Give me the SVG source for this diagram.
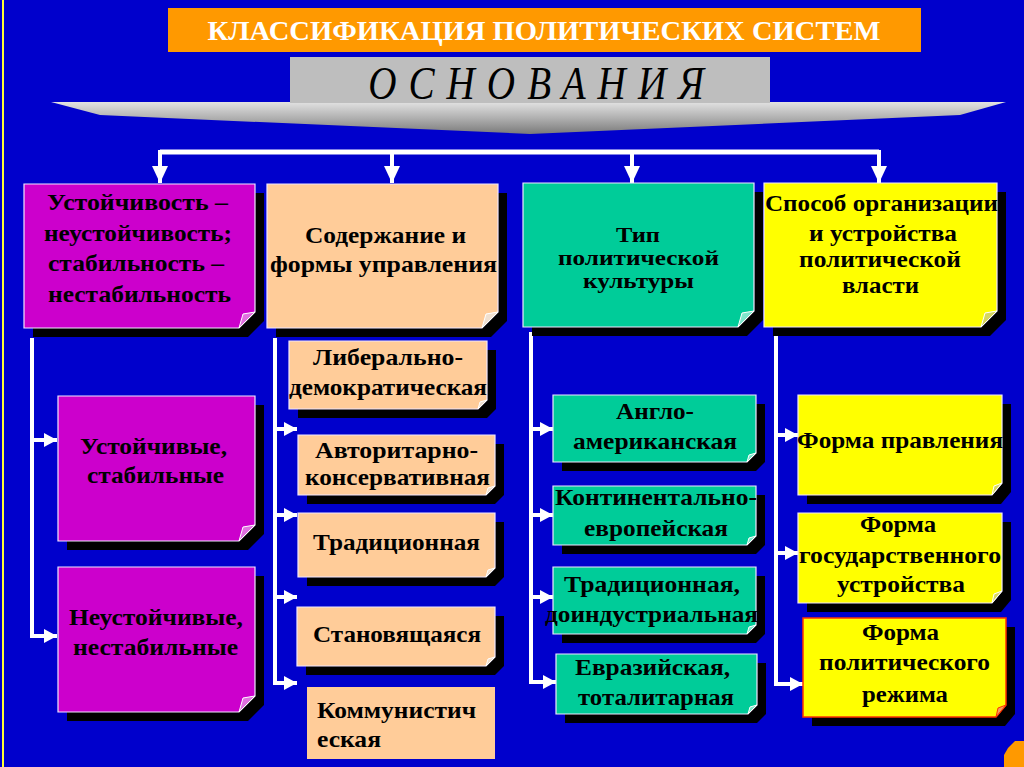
<svg xmlns="http://www.w3.org/2000/svg" width="1024" height="767" viewBox="0 0 1024 767">
<defs>
<style>
.t{font-family:"Liberation Serif","Times New Roman",serif;font-weight:bold;fill:#000;text-anchor:middle;font-size:24px}
.c{fill:none;stroke:#fff;stroke-width:4}
.sh{fill:#000}
.brd{stroke:#f0e6ff;stroke-width:1.2}
.fold{stroke:#fff;stroke-width:1}
</style>
<marker id="ar" markerUnits="userSpaceOnUse" markerWidth="14" markerHeight="14" refX="13" refY="7" orient="auto">
<path d="M0,0 L13,7 L0,14 z" fill="#fff"/>
</marker>
<marker id="ad" markerUnits="userSpaceOnUse" markerWidth="18" markerHeight="18" refX="17" refY="8" orient="auto">
<path d="M0,0 L17,8 L0,16 z" fill="#fff"/>
</marker>
<linearGradient id="gch" x1="0" y1="0" x2="0" y2="1">
<stop offset="0" stop-color="#e2e2e2"/>
<stop offset="0.5" stop-color="#b0b0b0"/>
<stop offset="1" stop-color="#7a7a7a"/>
</linearGradient>
</defs>
<rect x="0" y="0" width="1024" height="767" fill="#0000cc"/>
<rect x="2" y="0" width="2" height="767" fill="#ffff33"/>
<polygon points="1008,748 1015,741 1024,741 1024,767 1004,767 1004,755" fill="#ff9900"/>

<g id="title">
<rect x="168" y="8" width="753" height="44" fill="#ff9900"/>
<text x="544" y="40" class="t" style="fill:#fff;font-size:27px" textLength="673" lengthAdjust="spacingAndGlyphs">КЛАССИФИКАЦИЯ ПОЛИТИЧЕСКИХ СИСТЕМ</text>
</g>

<g id="osnovaniya">
<polygon points="51,102 1006,102 960,115 530,134 100,115" fill="url(#gch)"/>
<rect x="290" y="57" width="480" height="46" fill="#bebebe"/>
<text transform="translate(536,99) scale(0.85,1)" x="0" y="0" style="font-family:'Liberation Serif','Times New Roman',serif;font-style:italic;font-size:46px;fill:#000;text-anchor:middle" textLength="395" lengthAdjust="spacing">ОСНОВАНИЯ</text>
</g>

<g id="connectors">
<path class="c" d="M160,152 H879" style="stroke-width:5"/>
<path class="c" d="M160,150 V183" marker-end="url(#ad)"/>
<path class="c" d="M392,150 V183" marker-end="url(#ad)"/>
<path class="c" d="M632,150 V183" marker-end="url(#ad)"/>
<path class="c" d="M879,150 V183" marker-end="url(#ad)"/>

<path class="c" d="M32,338 V636"/>
<path class="c" d="M30,440 H57" marker-end="url(#ar)"/>
<path class="c" d="M30,636 H57" marker-end="url(#ar)"/>

<path class="c" d="M275,338 V683"/>
<path class="c" d="M273,429 H297" marker-end="url(#ar)"/>
<path class="c" d="M273,515 H297" marker-end="url(#ar)"/>
<path class="c" d="M273,597 H297" marker-end="url(#ar)"/>
<path class="c" d="M273,683 H297" marker-end="url(#ar)"/>

<path class="c" d="M531,332 V682"/>
<path class="c" d="M529,429 H553" marker-end="url(#ar)"/>
<path class="c" d="M529,515 H553" marker-end="url(#ar)"/>
<path class="c" d="M529,597 H553" marker-end="url(#ar)"/>
<path class="c" d="M529,682 H556" marker-end="url(#ar)"/>

<path class="c" d="M776,332 V684"/>
<path class="c" d="M774,435 H798" marker-end="url(#ar)"/>
<path class="c" d="M774,553 H798" marker-end="url(#ar)"/>
<path class="c" d="M774,684 H803" marker-end="url(#ar)"/>
</g>

<g id="n-stability">
<polygon class="sh" points="33,193 264,193 264,321 248,337 33,337"/>
<polygon class="brd" fill="#cc00cc" points="24,184 255,184 255,312 239,328 24,328"/>
<polygon class="fold" fill="#e070e0" points="255,312 239,328 243,314"/>
<text class="t" x="137.5" y="210" textLength="181" lengthAdjust="spacingAndGlyphs">Устойчивость –</text>
<text class="t" x="138" y="241" textLength="188" lengthAdjust="spacingAndGlyphs">неустойчивость;</text>
<text class="t" x="136" y="271" textLength="176" lengthAdjust="spacingAndGlyphs">стабильность –</text>
<text class="t" x="139.5" y="302" textLength="183" lengthAdjust="spacingAndGlyphs">нестабильность</text>
</g>

<g id="n-content">
<polygon class="sh" points="276,193 507,193 507,321 491,337 276,337"/>
<polygon class="brd" fill="#ffcc99" points="267,184 498,184 498,312 482,328 267,328"/>
<polygon class="fold" fill="#f0e0d0" points="498,312 482,328 486,314"/>
<text class="t" x="385.5" y="243" textLength="161" lengthAdjust="spacingAndGlyphs">Содержание и</text>
<text class="t" x="383.5" y="272" textLength="227" lengthAdjust="spacingAndGlyphs">формы управления</text>
</g>

<g id="n-culture">
<polygon class="sh" points="532,192 763,192 763,320 747,336 532,336"/>
<polygon class="brd" fill="#00cc99" points="523,183 754,183 754,311 738,327 523,327"/>
<polygon class="fold" fill="#80e6cc" points="754,311 738,327 742,313"/>
<text class="t" style="font-size:22px" x="638" y="242" textLength="44" lengthAdjust="spacingAndGlyphs">Тип</text>
<text class="t" style="font-size:22px" x="638.5" y="265" textLength="161" lengthAdjust="spacingAndGlyphs">политической</text>
<text class="t" style="font-size:22px" x="638.5" y="288" textLength="111" lengthAdjust="spacingAndGlyphs">культуры</text>
</g>

<g id="n-organization">
<polygon class="sh" points="773,192 1006,192 1006,320 990,336 773,336"/>
<polygon class="brd" fill="#ffff00" points="764,183 997,183 997,311 981,327 764,327"/>
<polygon class="fold" fill="#d6d660" points="997,311 981,327 985,313"/>
<text class="t" x="881.5" y="211" textLength="233" lengthAdjust="spacingAndGlyphs">Способ организации</text>
<text class="t" x="883" y="241" textLength="148" lengthAdjust="spacingAndGlyphs">и устройства</text>
<text class="t" x="880" y="267" textLength="162" lengthAdjust="spacingAndGlyphs">политической</text>
<text class="t" x="880.5" y="293" textLength="77" lengthAdjust="spacingAndGlyphs">власти</text>
</g>

<g id="n-stable">
<polygon class="sh" points="67,405 264,405 264,534 248,550 67,550"/>
<polygon class="brd" fill="#cc00cc" points="58,396 255,396 255,525 239,541 58,541"/>
<polygon class="fold" fill="#e070e0" points="255,525 239,541 243,527"/>
<text class="t" x="153.5" y="454" textLength="147" lengthAdjust="spacingAndGlyphs">Устойчивые,</text>
<text class="t" x="155.5" y="483" textLength="137" lengthAdjust="spacingAndGlyphs">стабильные</text>
</g>

<g id="n-unstable">
<polygon class="sh" points="67,576 264,576 264,705 248,721 67,721"/>
<polygon class="brd" fill="#cc00cc" points="58,567 255,567 255,696 239,712 58,712"/>
<polygon class="fold" fill="#e070e0" points="255,696 239,712 243,698"/>
<text class="t" x="156" y="625" textLength="174" lengthAdjust="spacingAndGlyphs">Неустойчивые,</text>
<text class="t" x="155.5" y="655" textLength="165" lengthAdjust="spacingAndGlyphs">нестабильные</text>
</g>

<g id="n-liberal">
<polygon class="sh" points="298,350 496,350 496,409 487,418 298,418"/>
<polygon class="brd" fill="#ffcc99" points="289,341 487,341 487,400 478,409 289,409"/>
<polygon class="fold" fill="#f0e0d0" points="487,400 478,409 480,402"/>
<text class="t" x="388" y="365" textLength="150" lengthAdjust="spacingAndGlyphs">Либерально-</text>
<text class="t" x="388" y="395" textLength="198" lengthAdjust="spacingAndGlyphs">демократическая</text>
</g>

<g id="n-authoritarian">
<polygon class="sh" points="307,444 504,444 504,495 495,504 307,504"/>
<polygon class="brd" fill="#ffcc99" points="298,435 495,435 495,486 486,495 298,495"/>
<polygon class="fold" fill="#f0e0d0" points="495,486 486,495 488,488"/>
<text class="t" x="396.5" y="458" textLength="163" lengthAdjust="spacingAndGlyphs">Авторитарно-</text>
<text class="t" x="397.5" y="485" textLength="185" lengthAdjust="spacingAndGlyphs">консервативная</text>
</g>

<g id="n-traditional">
<polygon class="sh" points="307,522 504,522 504,577 495,586 307,586"/>
<polygon class="brd" fill="#ffcc99" points="298,513 495,513 495,568 486,577 298,577"/>
<polygon class="fold" fill="#f0e0d0" points="495,568 486,577 488,570"/>
<text class="t" x="396.5" y="550" textLength="167" lengthAdjust="spacingAndGlyphs">Традиционная</text>
</g>

<g id="n-emerging">
<polygon class="sh" points="306,616 504,616 504,666 495,675 306,675"/>
<polygon class="brd" fill="#ffcc99" points="297,607 495,607 495,657 486,666 297,666"/>
<polygon class="fold" fill="#f0e0d0" points="495,657 486,666 488,659"/>
<text class="t" x="397" y="642" textLength="168" lengthAdjust="spacingAndGlyphs">Становящаяся</text>
</g>

<g id="n-communist">
<rect x="307" y="687" width="188" height="72" fill="#ffcc99"/>
<text class="t" style="text-anchor:start" x="317" y="718" textLength="159" lengthAdjust="spacingAndGlyphs">Коммунистич</text>
<text class="t" style="text-anchor:start" x="317" y="747" textLength="64" lengthAdjust="spacingAndGlyphs">еская</text>
</g>

<g id="n-anglo">
<polygon class="sh" points="562,404 765,404 765,462 756,471 562,471"/>
<polygon class="brd" fill="#00cc99" points="553,395 756,395 756,453 747,462 553,462"/>
<polygon class="fold" fill="#80e6cc" points="756,453 747,462 749,455"/>
<text class="t" x="655" y="419" textLength="78" lengthAdjust="spacingAndGlyphs">Англо-</text>
<text class="t" x="655" y="449" textLength="164" lengthAdjust="spacingAndGlyphs">американская</text>
</g>

<g id="n-continental">
<polygon class="sh" points="562,495 765,495 765,545 756,554 562,554"/>
<polygon class="brd" fill="#00cc99" points="553,486 756,486 756,536 747,545 553,545"/>
<polygon class="fold" fill="#80e6cc" points="756,536 747,545 749,538"/>
<text class="t" x="656" y="505" textLength="202" lengthAdjust="spacingAndGlyphs">Континентально-</text>
<text class="t" x="656" y="536" textLength="144" lengthAdjust="spacingAndGlyphs">европейская</text>
</g>

<g id="n-preindustrial">
<polygon class="sh" points="562,576 765,576 765,634 756,643 562,643"/>
<polygon class="brd" fill="#00cc99" points="553,567 756,567 756,625 747,634 553,634"/>
<polygon class="fold" fill="#80e6cc" points="756,625 747,634 749,627"/>
<text class="t" x="652" y="592" textLength="176" lengthAdjust="spacingAndGlyphs">Традиционная,</text>
<text class="t" x="651.5" y="622" textLength="213" lengthAdjust="spacingAndGlyphs">доиндустриальная</text>
</g>

<g id="n-eurasian">
<polygon class="sh" points="565,663 766,663 766,714 757,723 565,723"/>
<polygon class="brd" fill="#00cc99" points="556,654 757,654 757,705 748,714 556,714"/>
<polygon class="fold" fill="#80e6cc" points="757,705 748,714 750,707"/>
<text class="t" x="652.5" y="675" textLength="155" lengthAdjust="spacingAndGlyphs">Евразийская,</text>
<text class="t" x="656" y="705" textLength="156" lengthAdjust="spacingAndGlyphs">тоталитарная</text>
</g>

<g id="n-form-gov">
<polygon class="sh" points="807,404 1011,404 1011,492 1001,504 807,504"/>
<polygon class="brd" fill="#ffff00" points="798,395 1002,395 1002,483 992,495 798,495"/>
<polygon class="fold" fill="#d6d660" points="1002,483 992,495 994,486"/>
<text class="t" x="900" y="448" textLength="206" lengthAdjust="spacingAndGlyphs">Форма правления</text>
</g>

<g id="n-form-state">
<polygon class="sh" points="807,522 1011,522 1011,600 1001,612 807,612"/>
<polygon class="brd" fill="#ffff00" points="798,513 1002,513 1002,591 992,603 798,603"/>
<polygon class="fold" fill="#d6d660" points="1002,591 992,603 994,594"/>
<text class="t" x="898" y="532" textLength="76" lengthAdjust="spacingAndGlyphs">Форма</text>
<text class="t" x="900" y="563" textLength="202" lengthAdjust="spacingAndGlyphs">государственного</text>
<text class="t" x="901" y="592" textLength="128" lengthAdjust="spacingAndGlyphs">устройства</text>
</g>

<g id="n-form-regime">
<polygon class="sh" points="812,627 1015,627 1015,714 1005,726 812,726"/>
<polygon fill="#ffff00" stroke="#ff3300" stroke-width="1.5" points="803,618 1006,618 1006,705 996,717 803,717"/>
<polygon fill="#f0a060" stroke="#ff3300" stroke-width="1" points="1006,705 996,717 998,708"/>
<text class="t" x="900.5" y="640" textLength="77" lengthAdjust="spacingAndGlyphs">Форма</text>
<text class="t" x="904.5" y="670" textLength="171" lengthAdjust="spacingAndGlyphs">политического</text>
<text class="t" x="905" y="702" textLength="86" lengthAdjust="spacingAndGlyphs">режима</text>
</g>
</svg>
